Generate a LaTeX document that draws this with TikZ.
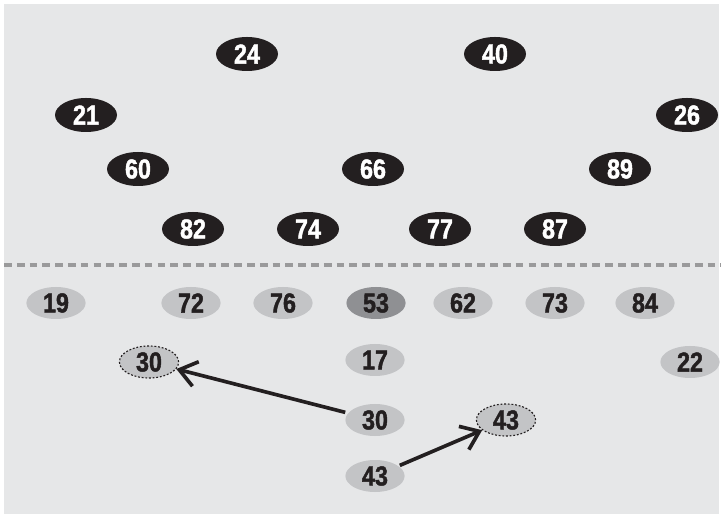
\documentclass[tikz,border=0pt]{standalone}
\usepackage{fontspec}
\usetikzlibrary{shapes.geometric,arrows.meta}
\newfontfamily\numfont[FakeStretch=0.85,FakeBold=1.5]{Liberation Sans}

\definecolor{field}{HTML}{E6E7E8}
\definecolor{defcol}{HTML}{231F20}
\definecolor{offcol}{HTML}{C3C4C6}
\definecolor{snapcol}{HTML}{8F9093}
\definecolor{scrimcol}{HTML}{9A9A9B}

\tikzset{
  player/.style={ellipse, inner sep=0pt, font=\numfont\bfseries\fontsize{19.5}{20}\selectfont},
  defense/.style={player, fill=defcol, text=white, minimum width=1.55cm, minimum height=0.85cm},
  offense/.style={player, fill=offcol, text=defcol, minimum width=1.48cm, minimum height=0.8cm},
  snap/.style={offense, fill=snapcol},
  moved/.style={offense, draw=defcol, line width=0.8pt, dash pattern=on 1.3pt off 1.3pt},
  motion/.style={line width=2.6pt, draw=defcol, -{Straight Barb[length=12pt,width=18pt]}}
}

\begin{document}
\begin{tikzpicture}
\useasboundingbox (0,0) rectangle (18.025,12.85);
\fill[field] (0.1,0) rectangle (17.975,12.75);

% line of scrimmage
\draw[scrimcol, line width=3.2pt, dash pattern=on 5.5pt off 3.6pt] (0.1,6.225) -- (18.025,6.225);

% defense
\foreach \n/\x/\y in {24/6.175/11.5, 40/12.375/11.5,
                      21/2.15/9.975, 26/17.175/9.975,
                      60/3.45/8.625, 66/9.325/8.625, 89/15.5/8.625,
                      82/4.825/7.125, 74/7.7/7.125, 77/11.0/7.125, 87/13.875/7.125}
{
\node[defense] (d\n) at (\x,\y) {\n};
}

% offense
\foreach \n/\x/\y in {19/1.4/5.275, 72/4.775/5.275, 76/7.075/5.275,
                      62/11.575/5.275, 73/13.875/5.275, 84/16.125/5.275,
                      17/9.375/3.85, 22/17.25/3.8}
{
\node[offense] (o\n) at (\x,\y) {\n};
}
\node[snap] (o53) at (9.4,5.275) {53};
\node[offense] (o30) at (9.375,2.35) {30};
\node[offense] (o43) at (9.375,0.95) {43};

% where the backs end up
\node[moved] (m30) at (3.725,3.8) {30};
\node[moved] (m43) at (12.65,2.35) {43};

\draw[motion, shorten <=2pt] (o30) -- (m30);
\draw[motion, shorten <=1pt] (o43) -- (m43);
\end{tikzpicture}
\end{document}
